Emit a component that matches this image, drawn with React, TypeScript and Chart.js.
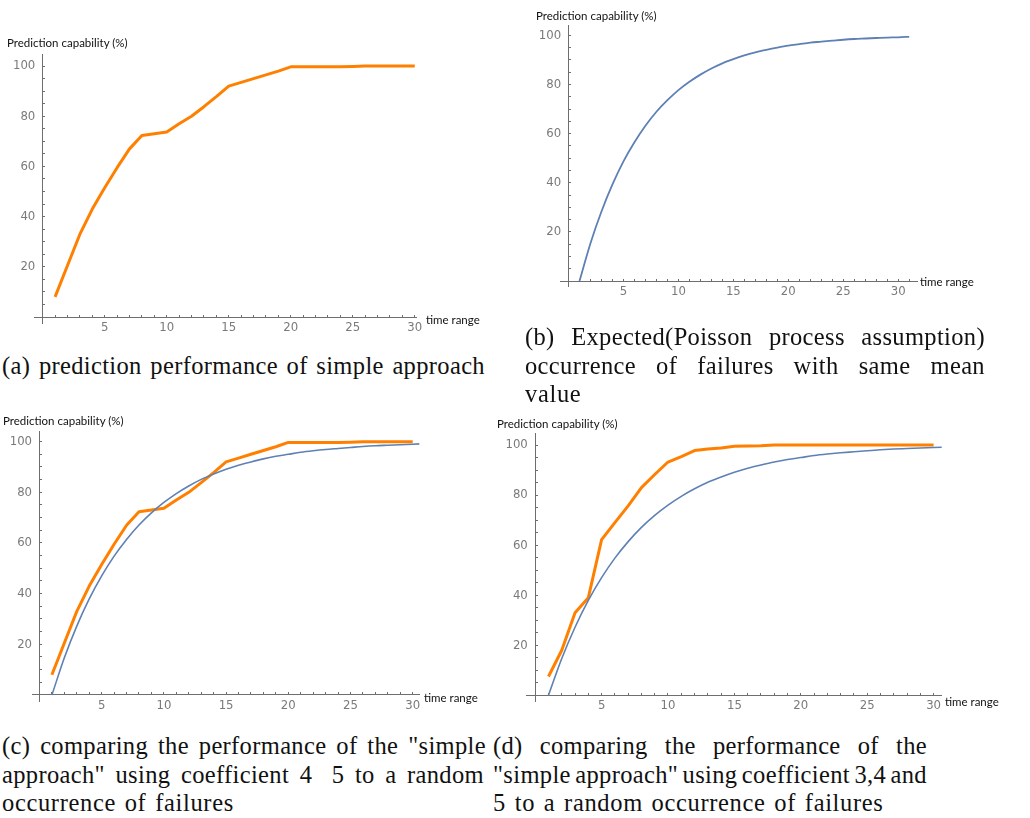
import React, { useEffect, useRef } from 'react';
import { Chart, registerables } from 'chart.js';

Chart.register(...registerables);

// ---------------- data ----------------
const timeSteps30 = [1, 2, 3, 4, 5, 6, 7, 8, 9, 10, 11, 12, 13, 14, 15, 16, 17, 18, 19, 20, 21, 22, 23, 24, 25, 26, 27, 28, 29, 30];
const timeSteps31 = [1, 2, 3, 4, 5, 6, 7, 8, 9, 10, 11, 12, 13, 14, 15, 16, 17, 18, 19, 20, 21, 22, 23, 24, 25, 26, 27, 28, 29, 30, 31];

// simple approach, coefficient 4 & 5 (panels a and c)
const simpleApproach45 = [8, 20.5, 33, 43, 51.5, 59.5, 67, 72.3, 73, 73.7, 77, 80, 83.8, 87.8, 92, 93.5, 95, 96.5, 98, 99.7, 99.7, 99.7, 99.7, 99.7, 99.8, 100, 100, 100, 100, 100];
// simple approach, coefficient 3,4 & 5 (panel d)
const simpleApproach345 = [7.5, 18, 33, 39, 62.2, 69, 75.7, 83, 88.2, 93.2, 95.4, 97.8, 98.4, 98.8, 99.5, 99.6, 99.7, 100, 100, 100, 100, 100, 100, 100, 100, 100, 100, 100, 100, 100];
// expected (Poisson) occurrence of failures
const poissonExpectedB = [0, 15.4, 28.3, 39.3, 48.7, 56.5, 63.2, 68.9, 73.6, 77.7, 81.1, 84.0, 86.5, 88.6, 90.3, 91.8, 93.1, 94.1, 95.0, 95.8, 96.4, 97.0, 97.4, 97.8, 98.2, 98.5, 98.7, 98.9, 99.1, 99.2, 99.4];
const poissonExpectedCD = [0, 14.7, 27.2, 37.9, 47.0, 54.8, 61.4, 67.1, 71.9, 76.0, 79.5, 82.5, 85.1, 87.2, 89.1, 90.7, 92.0, 93.2, 94.2, 95.0, 95.8, 96.4, 96.9, 97.3, 97.7, 98.1, 98.4, 98.6, 98.8, 99.0, 99.2];

const xTickLabels = ['5', '10', '15', '20', '25', '30'];
const yTickLabels = ['20', '40', '60', '80', '100'];

const yAxisTitle = 'Prediction capability (%)';
const xAxisTitle = 'time range';

// ---------------- styles ----------------
const ORANGE = '#FF8000';
const BLUE = '#5E81B5';
const AXIS = '#6e6e6e';
const TICKTXT = '#7a7a7a';
const TICKFONT = { family: '"Liberation Sans Narrow", "DejaVu Sans Condensed", "Liberation Sans", sans-serif', size: 13 };

type Series = { xs: number[]; ys: number[]; color: string; width: number; smooth: boolean };
type Panel = {
  left: number; top: number; w: number; h: number;
  pad: { left: number; right: number; top: number; bottom: number };
  xr: [number, number]; yr: [number, number];
  series: Series[];
};

const panels: Panel[] = [
  {
    left: 0, top: 40, w: 490, h: 300,
    pad: { left: 34, right: 74, top: 14, bottom: 17 },
    xr: [-0.7, 30.1], yr: [-2.39, 104.8],
    series: [{ xs: timeSteps30, ys: simpleApproach45, color: ORANGE, width: 3, smooth: false }],
  },
  {
    left: 520, top: 10, w: 500, h: 300,
    pad: { left: 40.7, right: 103, top: 15, bottom: 23.3 },
    xr: [-0.71, 31.71], yr: [-2.32, 104.2],
    series: [{ xs: timeSteps31, ys: poissonExpectedB, color: BLUE, width: 1.8, smooth: true }],
  },
  {
    left: 0, top: 415, w: 490, h: 300,
    pad: { left: 32, right: 70.7, top: 16, bottom: 14 },
    xr: [-0.6, 30.53], yr: [-2.37, 104.2],
    series: [
      { xs: timeSteps31, ys: poissonExpectedCD, color: BLUE, width: 1.6, smooth: true },
      { xs: timeSteps30, ys: simpleApproach45, color: ORANGE, width: 3, smooth: false },
    ],
  },
  {
    left: 490, top: 415, w: 530, h: 300,
    pad: { left: 36.7, right: 78.3, top: 18, bottom: 9.5 },
    xr: [-0.64, 30.61], yr: [-2.36, 104.8],
    series: [
      { xs: timeSteps31, ys: poissonExpectedCD, color: BLUE, width: 1.6, smooth: true },
      { xs: timeSteps30, ys: simpleApproach345, color: ORANGE, width: 3, smooth: false },
    ],
  },
];

function buildConfig(p: Panel): any {
  const tickColor = (ctx: any) => (ctx.tick && ctx.tick.value === 0 ? 'rgba(0,0,0,0)' : AXIS);
  return {
    type: 'line',
    data: {
      datasets: p.series.map((s) => ({
        data: s.xs.map((x, i) => ({ x, y: s.ys[i] })),
        borderColor: s.color,
        backgroundColor: s.color,
        borderWidth: s.width,
        pointRadius: 0,
        fill: false,
        tension: 0,
        cubicInterpolationMode: s.smooth ? 'monotone' : 'default',
        borderJoinStyle: 'round',
        borderCapStyle: 'butt',
      })),
    },
    options: {
      animation: false,
      responsive: false,
      maintainAspectRatio: false,
      layout: { padding: p.pad },
      plugins: { legend: { display: false }, tooltip: { enabled: false }, title: { display: false } },
      scales: {
        x: {
          type: 'linear',
          position: { y: 0 },
          min: p.xr[0],
          max: p.xr[1],
          ticks: {
            stepSize: 1,
            autoSkip: false,
            includeBounds: false,
            maxRotation: 0,
            maxTicksLimit: 200,
            padding: 6,
            color: TICKTXT,
            font: TICKFONT,
            callback: (v: any) => (xTickLabels.includes(String(v)) ? String(v) : ''),
          },
          grid: { display: true, drawOnChartArea: false, drawTicks: true, tickLength: -3, tickColor, tickWidth: 1 },
          border: { display: true, color: AXIS, width: 1 },
        },
        y: {
          type: 'linear',
          position: { x: 0 },
          min: p.yr[0],
          max: p.yr[1],
          ticks: {
            stepSize: 5,
            autoSkip: false,
            includeBounds: false,
            maxTicksLimit: 200,
            padding: 6,
            color: TICKTXT,
            font: TICKFONT,
            // trailing spaces keep the label clear of the axis line
            callback: (v: any) => (yTickLabels.includes(String(v)) ? String(v) + '  ' : ''),
          },
          grid: { display: true, drawOnChartArea: false, drawTicks: true, tickLength: -3, tickColor, tickWidth: 1 },
          border: { display: true, color: AXIS, width: 1 },
        },
      },
    },
  };
}

function Plot({ p }: { p: Panel }) {
  const ref = useRef<HTMLCanvasElement>(null);
  useEffect(() => {
    if (!ref.current) return;
    const chart = new Chart(ref.current, buildConfig(p));
    return () => chart.destroy();
  }, [p]);
  return (
    <canvas
      ref={ref}
      width={p.w}
      height={p.h}
      style={{ position: 'absolute', left: p.left, top: p.top, width: p.w, height: p.h }}
    />
  );
}

const labelFont = 'Lato, "Open Sans", sans-serif';

function AxisText({ x, y, text }: { x: number; y: number; text: string }) {
  return (
    <div
      style={{
        position: 'absolute', left: x, top: y - 7, height: 14, lineHeight: '14px',
        fontFamily: labelFont, fontSize: 11.5, color: '#111', whiteSpace: 'nowrap',
      }}
    >
      {text}
    </div>
  );
}

const captionBase: any = {
  position: 'absolute',
  fontFamily: '"Liberation Serif", "DejaVu Serif", serif',
  fontSize: 24.5,
  lineHeight: '29px',
  color: '#111',
  whiteSpace: 'nowrap',
};

function Caption({ x, base, width, text }: { x: number; base: number; width?: number; text: string }) {
  const top = base - 22.7;
  if (width === undefined) {
    return (
      <div style={{ ...captionBase, left: x, top, letterSpacing: '0.65px', wordSpacing: '2px' }}>{text}</div>
    );
  }
  const words = text.split(' ');
  return (
    <div
      style={{
        ...captionBase, left: x, top, width, display: 'flex', justifyContent: 'space-between',
        letterSpacing: '0.35px',
      }}
    >
      {words.map((w, i) => (
        <span key={i} style={{ flex: '0 0 auto' }}>{w}</span>
      ))}
    </div>
  );
}

export default function App() {
  return (
    <div style={{ position: 'absolute', left: 0, top: 0, width: 1030, height: 818, background: '#fff', overflow: 'hidden' }}>
      {panels.map((p, i) => (
        <Plot key={i} p={p} />
      ))}
      <AxisText x={7} y={43} text={yAxisTitle} />
      <AxisText x={426} y={319.5} text={xAxisTitle} />
      <AxisText x={536} y={16} text={yAxisTitle} />
      <AxisText x={920} y={282} text={xAxisTitle} />
      <AxisText x={3} y={421} text={yAxisTitle} />
      <AxisText x={424} y={697.5} text={xAxisTitle} />
      <AxisText x={497} y={424} text={yAxisTitle} />
      <AxisText x={945} y={702} text={xAxisTitle} />

      <Caption x={2} base={373.5} width={483} text="(a) prediction performance of simple approach" />
      <Caption x={525} base={345} width={460} text="(b) Expected(Poisson process assumption)" />
      <Caption x={525} base={373.3} width={460} text="occurrence of failures with same mean" />
      <Caption x={525} base={401.7} text="value" />
      <Caption x={2} base={754} width={484} text={'(c) comparing the performance of the "simple'} />
      <Caption x={2} base={782.7} width={482} text={'approach" using coefficient 4\u00a0\u00a0\u00a05 to a random'} />
      <Caption x={2} base={811} text="occurrence of failures" />
      <Caption x={493} base={754} width={434} text="(d) comparing the performance of the" />
      <Caption x={493} base={782.7} width={434} text={'"simple approach" using coefficient 3,4 and'} />
      <Caption x={493} base={811} text="5 to a random occurrence of failures" />
    </div>
  );
}
